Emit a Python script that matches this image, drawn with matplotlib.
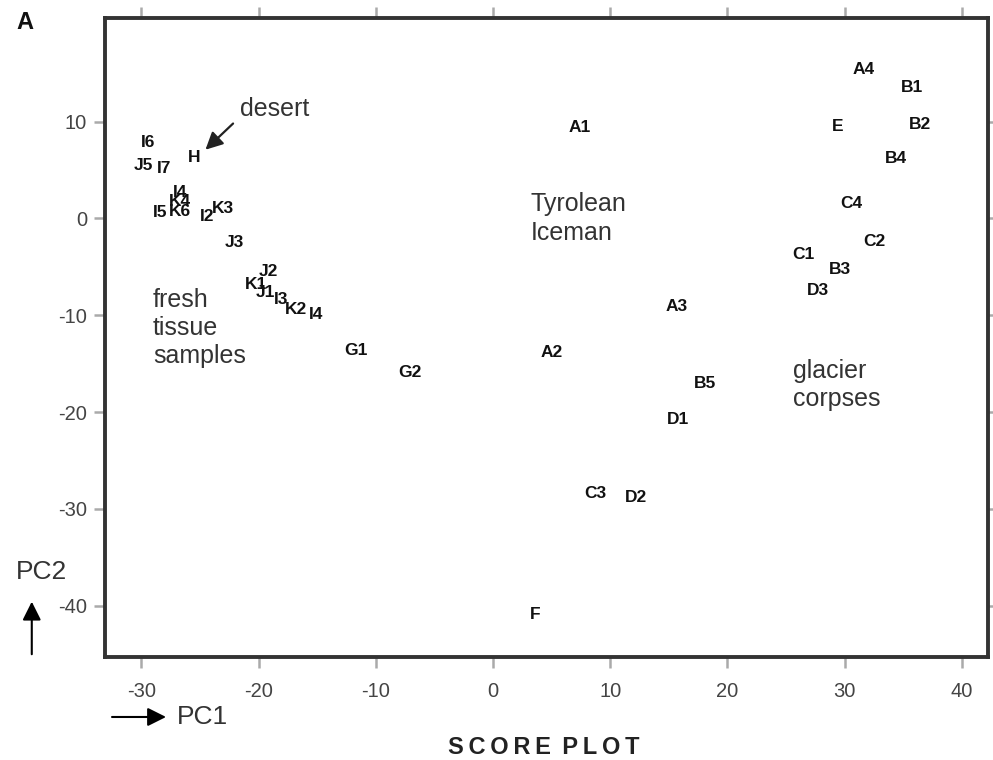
import matplotlib
matplotlib.use("Agg")
import matplotlib.pyplot as plt
from matplotlib.patches import FancyArrowPatch

plt.rcParams['font.family'] = ['Liberation Sans', 'DejaVu Sans']
plt.rcParams['axes.unicode_minus'] = False

# sample labels and their scores on PC1 / PC2
labels = ['A4', 'B1', 'E', 'B2', 'B4', 'C4', 'C2', 'C1', 'B3', 'D3',
          'A1', 'A3', 'A2', 'B5', 'D1', 'C3', 'D2', 'F', 'G1', 'G2',
          'I6', 'H', 'J5', 'I7', 'I4', 'K4', 'I5', 'K6', 'I2', 'K3',
          'J3', 'J2', 'K1', 'J1', 'I3', 'K2', 'I4']
pc1 = [31.6, 35.7, 29.4, 36.4, 34.4, 30.6, 32.5, 26.5, 29.6, 27.7,
       7.4, 15.7, 5.0, 18.1, 15.8, 8.7, 12.2, 3.6, -11.7, -7.1,
       -29.4, -25.5, -29.8, -28.1, -26.7, -26.7, -28.4, -26.7, -24.4, -23.0,
       -22.1, -19.2, -20.2, -19.4, -18.1, -16.8, -15.1]
pc2 = [15.4, 13.5, 9.5, 9.7, 6.2, 1.5, -2.4, -3.7, -5.3, -7.4,
       9.4, -9.1, -13.8, -17.1, -20.8, -28.4, -28.8, -40.9, -13.6, -15.9,
       7.8, 6.3, 5.5, 5.2, 2.7, 1.75, 0.6, 0.7, 0.2, 1.0,
       -2.5, -5.5, -6.8, -7.7, -8.4, -9.4, -9.9]

x_ticks = [-30, -20, -10, 0, 10, 20, 30, 40]
y_ticks = [-40, -30, -20, -10, 0, 10]

fig = plt.figure(figsize=(9.93, 7.6), dpi=100)
ax = fig.add_axes([0.1057, 0.1355, 0.889, 0.8408])

for lab, x, y in zip(labels, pc1, pc2):
    ax.text(x, y, lab, ha='center', va='center', fontsize=12.5,
            fontweight='bold', color='#111111')

# group annotations
txt_kw = dict(fontsize=18, color='#333333', va='center', linespacing=1.22)
ax.text(-21.6, 11.3, 'desert', **txt_kw)
ax.annotate('', xy=(-24.7, 6.9), xytext=(-22.0, 10.0),
            arrowprops=dict(arrowstyle='-|>', color='#222222', lw=1.6,
                            mutation_scale=26))
ax.text(3.2, 0.0, 'Tyrolean\nIceman', **txt_kw)
ax.text(-29.0, -11.3, 'fresh\ntissue\nsamples', **txt_kw)
ax.text(25.6, -17.2, 'glacier\ncorpses', **txt_kw)

ax.set_xlim(-33.1, 42.2)
ax.set_ylim(-45.3, 20.7)
ax.set_xticks(x_ticks)
ax.set_yticks(y_ticks)
ax.tick_params(direction='out', length=8, width=1.8, color='#aaaaaa',
               labelsize=14.5, labelcolor='#444444',
               top=True, right=True)
ax.tick_params(axis='x', pad=10)
ax.tick_params(axis='y', pad=5)
for sp in ax.spines.values():
    sp.set_linewidth(2.8)
    sp.set_color('#333333')

# panel letter and axis hints outside the box
fig.text(0.025, 0.971, 'A', fontsize=17, fontweight='bold', ha='center',
         va='center', color='#111111')
fig.text(0.016, 0.247, 'PC2', fontsize=19, color='#333333', va='center')
fig.add_artist(FancyArrowPatch(
    (0.032, 0.1355), (0.032, 0.212), transform=fig.transFigure,
    arrowstyle='-|>', mutation_scale=28, color='black', lw=1.5))
fig.add_artist(FancyArrowPatch(
    (0.110, 0.0566), (0.170, 0.0566), transform=fig.transFigure,
    arrowstyle='-|>', mutation_scale=28, color='black', lw=1.5))
fig.text(0.178, 0.0566, 'PC1', fontsize=19, color='#333333', va='center')
fig.text(0.548, 0.017, '\u2009'.join('SCORE') + ' \u2009' + '\u2009'.join('PLOT'),
         fontsize=17, fontweight='bold', ha='center', va='center',
         color='#222222')

fig.savefig('out.png', dpi=100)
